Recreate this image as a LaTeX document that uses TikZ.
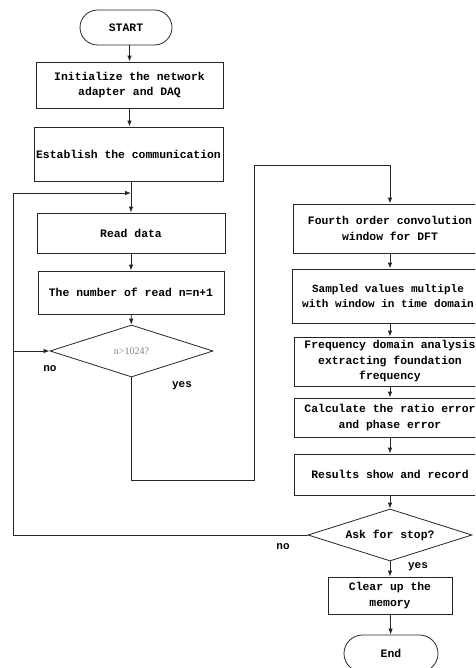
\documentclass[tikz,border=0pt]{standalone}
\usepackage{fontspec}
\setmainfont{Liberation Serif}
\setmonofont{Liberation Mono}
\usetikzlibrary{arrows.meta,shapes.geometric}
\tikzset{
  box/.style={draw=black!85, line width=0.8pt, align=center, inner sep=0pt,
    font=\ttfamily\bfseries\fontsize{11.4}{15.5}\selectfont, text=black},
  pill/.style={box, rounded corners=17.5pt},
  dec/.style={box, diamond, aspect=3.15},
  arr/.style={draw=black!85, line width=0.8pt, -{Latex[length=6pt,width=4.5pt]}},
  lbl/.style={font=\ttfamily\bfseries\fontsize{11}{13}\selectfont},
}
\begin{document}
\begin{tikzpicture}[x=1pt,y=-1pt]
\useasboundingbox (0,0) rectangle (475,668);
\clip (0,0) rectangle (475,668);
% left column
\node[pill, minimum width=92pt, minimum height=35pt] (start) at (126,27.5) {START};
\node[box, minimum width=187pt, minimum height=46pt] (init) at (129.5,85) {Initialize the network\\adapter and DAQ};
\node[box, minimum width=189pt, minimum height=54pt] (estab) at (128.5,154) {Establish the communication};
\node[box, minimum width=188pt, minimum height=40pt] (read) at (131,233) {Read data};
\node[box, minimum width=186pt, minimum height=43pt] (num) at (131,292.5) {The number of read n=n+1};
\node[dec, minimum width=163pt, minimum height=52pt, font=\rmfamily\fontsize{10}{12}\selectfont, text=black!50] (d1) at (131.5,351) {n>1024?};
% right column
\node[box, minimum width=194pt, minimum height=49pt] (fourth) at (390,228.5) {Fourth order convolution\\window for DFT};
\node[box, minimum width=192pt, minimum height=54pt, font=\ttfamily\bfseries\fontsize{11}{15.5}\selectfont] (samp) at (388,296) {Sampled values multiple\\with window in time domain};
\node[box, minimum width=192pt, minimum height=49pt] (freq) at (390,361.5) {Frequency domain analysis\\extracting foundation\\frequency};
\node[box, minimum width=192pt, minimum height=39pt] (calc) at (390,417.5) {Calculate the ratio error\\and phase error};
\node[box, minimum width=192pt, minimum height=41pt] (res) at (390,474.5) {Results show and record};
\node[dec, minimum width=164pt, minimum height=52pt] (ask) at (390,535) {Ask for stop?};
\node[box, minimum width=124pt, minimum height=37pt] (clear) at (390,595.5) {Clear up the\\memory};
\node[pill, minimum width=94pt, minimum height=37pt, rounded corners=18.5pt] (end) at (391,653.5) {End};
% coordinates
\coordinate (LX) at (13,193);
\coordinate (Y1) at (254,480);
\coordinate (Y2) at (254,165);
% connectors
\draw[arr] (init.north |- start.south) -- (init.north);
\draw[arr] (init.south) -- (init.south |- estab.north);
\draw[arr] (read.north |- estab.south) -- (read.north);
\draw[arr] (read) -- (num);
\draw[arr] (num) -- (d1);
\draw[arr] (ask.west) -| (LX) -- (read.north |- LX);
\draw[arr] (d1.west -| LX) -- (d1.west);
\draw[arr] (d1.south) |- (Y1) -- (Y2) -| (fourth.north);
\draw[arr] (fourth.south -| calc.north) -- (calc.north |- samp.north);
\draw[arr] (calc.north |- samp.south) -- (calc.north |- freq.north);
\draw[arr] (freq) -- (calc);
\draw[arr] (calc) -- (res);
\draw[arr] (res) -- (ask);
\draw[arr] (ask) -- (clear);
\draw[arr] (clear) -- (end);
% labels
\node[lbl] (no1) at (50,369) {no};
\node[lbl] (yes1) at (182,386) {yes};
\node[lbl] (no2) at (283,547) {no};
\node[lbl] (yes2) at (418,567) {yes};
\end{tikzpicture}
\end{document}
